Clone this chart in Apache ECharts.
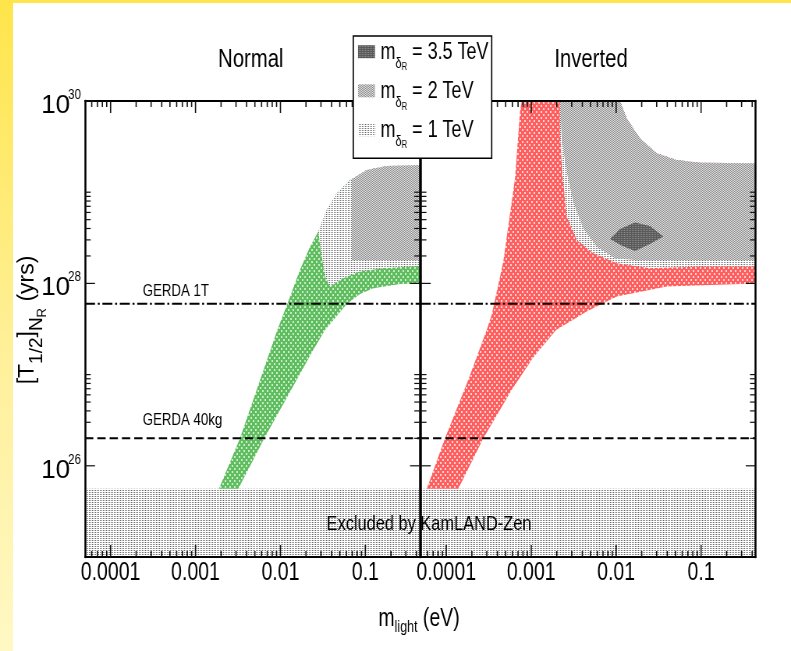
<!DOCTYPE html>
<html><head><meta charset="utf-8">
<script src="https://cdn.jsdelivr.net/npm/echarts@6/dist/echarts.min.js"></script>
<style>
html,body{margin:0;padding:0;width:791px;height:651px;overflow:hidden;background:linear-gradient(180deg,#ffe54a 0%,#fff09a 55%,#fff8c4 100%);}
#paper{position:absolute;left:13px;top:3px;right:0;bottom:0;background:#fff;}
#wrap{position:absolute;left:0;top:0;width:1014px;height:651px;transform:scaleX(0.780079);transform-origin:0 0;}
#chart{width:1014px;height:651px;}
</style></head><body>
<div id="paper"></div>
<div id="wrap"><div id="chart"></div></div>
<script>
// ---------------- data ----------------
const X_MIN = 5e-5, X_MAX = 0.44;
const Y_MIN = 1e25, Y_MAX = 1e30;
const X_MAJOR = [1e-4, 1e-3, 1e-2, 1e-1];
const X_TICK_LABELS = ['0.0001', '0.001', '0.01', '0.1'];
const X_MINOR = [6e-5, 7e-5, 8e-5, 9e-5,
  2e-4, 3e-4, 4e-4, 5e-4, 6e-4, 7e-4, 8e-4, 9e-4,
  2e-3, 3e-3, 4e-3, 5e-3, 6e-3, 7e-3, 8e-3, 9e-3,
  2e-2, 3e-2, 4e-2, 5e-2, 6e-2, 7e-2, 8e-2, 9e-2,
  0.2, 0.3, 0.4];
const Y_MAJOR = [1e26, 1e28, 1e30];
const Y_LABEL_EXP = [26, 28, 30];
const Y_MINOR = [2e26, 3e26, 4e26, 5e26, 6e26, 7e26, 8e26, 9e26, 1e27,
  2e28, 3e28, 4e28, 5e28, 6e28, 7e28, 8e28, 9e28, 1e29];

const KAMLAND_LIMIT = 5.6e25;
const GERDA_1T = 6e27;
const GERDA_40KG = 2e26;
const GERDA_LABELS = ['GERDA 1T', 'GERDA 40kg'];
const GERDA_LABEL_POS = [[2.39e-4, 8.2e27], [2.39e-4, 3.17e26]];
const EXCL_LABEL = 'Excluded by KamLAND-Zen';
const EXCL_LABEL_POS = [[6.26e-5, 2.31e25]];

// Normal hierarchy
const GREEN_BAND = [
  [0.00189, 5.6e25], [0.00334, 2.0e26], [0.00919, 3.09e27], [0.01205, 5.96e27],
  [0.0170, 1.41e28], [0.0223, 2.53e28], [0.0279, 3.70e28], [0.0351, 6.39e28],
  [0.0460, 9.74e28], [0.0660, 1.36e29], [0.1037, 1.75e29], [0.178, 1.94e29],
  [0.44, 1.99e29], [0.44, 1.0e28], [0.256, 9.87e27], [0.124, 8.86e27],
  [0.0865, 7.67e27], [0.0603, 5.96e27], [0.0335, 3.09e27], [0.0244, 1.87e27],
  [0.00646, 2.0e26], [0.00319, 5.6e25]
];
const ONE_TEV_N = [
  [0.0279, 3.70e28], [0.0351, 6.39e28], [0.0460, 9.74e28], [0.0660, 1.36e29],
  [0.1037, 1.75e29], [0.178, 1.94e29], [0.44, 1.99e29], [0.44, 1.555e28],
  [0.1627, 1.468e28], [0.0865, 1.347e28], [0.0550, 1.14e28], [0.0384, 9.23e27],
  [0.0335, 1.187e28], [0.0298, 2.33e28]
];
const TWO_TEV_N = [
  [0.0691, 1.81e28], [0.0691, 1.38e29], [0.1037, 1.75e29], [0.178, 1.94e29],
  [0.44, 1.99e29], [0.44, 1.81e28]
];
// Inverted hierarchy
const RED_BAND = [
  [5.89e-5, 5.6e25], [9.66e-5, 2.0e26], [1.817e-4, 8.76e26], [2.99e-4, 3.09e27],
  [3.43e-4, 4.52e27], [4.69e-4, 1.73e28], [6.45e-4, 1.42e29], [7.38e-4, 7.63e29],
  [7.73e-4, 1e30], [0.01111, 1e30], [0.01332, 6.46e29], [0.0191, 3.9e29],
  [0.0300, 2.67e29], [0.0516, 2.26e29], [0.0972, 2.11e29], [0.44, 2.08e29],
  [0.44, 1.0e28], [0.0394, 9.23e27], [0.01016, 7.17e27], [0.0045, 4.91e27],
  [0.00196, 3.09e27], [0.00105, 1.53e27], [5.9e-4, 6.81e26], [2.73e-4, 2.0e26],
  [1.385e-4, 5.6e25]
];
const ONE_TEV_I = [
  [0.002183, 1e30], [0.002183, 4.43e29], [0.002286, 1.905e29], [0.002618, 5.4e28],
  [0.003434, 3.0e28], [0.005385, 2.14e28], [0.01016, 1.665e28], [0.02506, 1.468e28],
  [0.0972, 1.528e28], [0.44, 1.528e28], [0.44, 2.08e29], [0.0972, 2.11e29],
  [0.0516, 2.26e29], [0.0300, 2.67e29], [0.0191, 3.9e29], [0.01332, 6.46e29],
  [0.01111, 1e30]
];
const TWO_TEV_I = [
  [0.002183, 1e30], [0.002286, 3.9e29], [0.002618, 1.68e29], [0.003131, 7.88e28],
  [0.004106, 4.03e28], [0.005906, 2.53e28], [0.0097, 1.89e28], [0.01669, 1.81e28],
  [0.44, 1.81e28], [0.44, 2.08e29], [0.0972, 2.11e29], [0.0516, 2.26e29],
  [0.0300, 2.67e29], [0.0191, 3.9e29], [0.01332, 6.46e29], [0.01111, 1e30]
];
const THREE_TEV_I = [
  [0.00847, 3.07e28], [0.01111, 3.96e28], [0.01669, 4.64e28], [0.02506, 4.27e28],
  [0.0359, 3.26e28], [0.02506, 2.71e28], [0.01669, 2.27e28], [0.01173, 2.58e28]
];
const LEGEND_LABELS = ['3.5 TeV', '2 TeV', '1 TeV'];

// ---------------- layout helpers ----------------
const S = 791 / 1014;
const U = v => v / S;
const FONT = 'Liberation Sans, Arial, Helvetica, sans-serif';

function makePattern(w, h, bg, fg, cells) {
  const c = document.createElement('canvas');
  c.width = w; c.height = h;
  const g = c.getContext('2d');
  g.fillStyle = bg; g.fillRect(0, 0, w, h);
  g.fillStyle = fg;
  cells.forEach(([x, y, cw, ch]) => g.fillRect(x, y, cw || 1, ch || 1));
  return { image: c, repeat: 'repeat' };
}
const GREEN_FILL = makePattern(6, 6, '#5fbd5f', '#c9eec9', [[0, 0, 2, 2], [3, 3, 2, 2]]);
const RED_FILL = makePattern(6, 6, '#ff5e5e', '#ffd2d2', [[0, 0, 2, 2], [3, 3, 2, 2]]);
const TWO_FILL = makePattern(2, 2, '#e4e4e4', '#8a8a8a', [[0, 0], [1, 1]]);
const ONE_FILL = makePattern(2, 2, '#ffffff', '#707070', [[0, 0]]);
const EXCL_FILL = makePattern(2, 2, '#ffffff', '#656565', [[0, 0]]);
const THREE_FILL = makePattern(2, 2, '#5a5a5a', '#8c8c8c', [[0, 0]]);
const LEGEND_FILLS = [THREE_FILL, TWO_FILL, ONE_FILL];

function poly(name, pts, fill, g, z) {
  return {
    type: 'custom', name, coordinateSystem: 'cartesian2d',
    xAxisIndex: 2 * g, yAxisIndex: 2 * g, data: pts, clip: true, silent: true, z,
    renderItem(params, api) {
      if (params.dataIndex !== 0) return null;
      const points = pts.map(p => api.coord(p));
      return { type: 'polygon', shape: { points }, style: { fill } };
    }
  };
}
function hline(name, yv, dash, g) {
  return {
    type: 'line', name, xAxisIndex: 2 * g, yAxisIndex: 2 * g,
    data: [[X_MIN, yv], [X_MAX, yv]], symbol: 'none', silent: true, z: 8,
    lineStyle: { color: '#000', width: 2, type: dash }
  };
}
function textSeries(texts, pos, g, align, size) {
  return {
    type: 'custom', coordinateSystem: 'cartesian2d', xAxisIndex: 2 * g, yAxisIndex: 2 * g,
    data: pos, silent: true, z: 9,
    renderItem(params, api) {
      const p = api.coord([api.value(0), api.value(1)]);
      return { type: 'text', x: p[0], y: p[1], style: {
        text: texts[params.dataIndex], fill: '#000', fontSize: size, fontFamily: FONT,
        align, verticalAlign: 'middle' } };
    }
  };
}
// y tick labels 10^n drawn at the axis positions of the log scale
function yLabelSeries() {
  return {
    type: 'custom', coordinateSystem: 'cartesian2d', xAxisIndex: 0, yAxisIndex: 0,
    data: Y_LABEL_EXP.map(e => [X_MIN, Math.pow(10, e), e]), silent: true, z: 12,
    encode: { x: 0, y: 1 },
    renderItem(params, api) {
      const p = api.coord([api.value(0), api.value(1)]);
      const xr = p[0] - U(4);
      return { type: 'group', children: [
        { type: 'text', x: xr, y: p[1] - 6.3,
          style: { text: String(api.value(2)), fill: '#000', fontSize: 15, fontFamily: FONT, align: 'right', verticalAlign: 'middle' } },
        { type: 'text', x: xr - U(11), y: p[1] + 4.8, scaleX: 1 / S,
          style: { text: '10', fill: '#000', fontSize: 26, fontFamily: FONT, align: 'right', verticalAlign: 'middle' } }
      ] };
    }
  };
}
function tickSeries(g) {
  const data = [];
  X_MAJOR.forEach(v => data.push([v, Y_MIN, 0]));
  X_MINOR.forEach(v => data.push([v, Y_MIN, 1]));
  Y_MAJOR.forEach(v => data.push([X_MIN, v, 2]));
  Y_MINOR.forEach(v => data.push([X_MIN, v, 3]));
  return {
    type: 'custom', coordinateSystem: 'cartesian2d', xAxisIndex: 2 * g, yAxisIndex: 2 * g,
    data, silent: true, z: 11, encode: { x: 0, y: 1 },
    renderItem(params, api) {
      const k = api.value(2);
      const st = { stroke: '#111', lineWidth: k < 2 ? 1.6 : 1.2 };
      if (k < 2) {
        const xv = api.value(0);
        const pb = api.coord([xv, Y_MIN]), pt = api.coord([xv, Y_MAX]);
        const len = k === 0 ? 12 : 6;
        return { type: 'group', children: [
          { type: 'line', shape: { x1: pb[0], y1: pb[1], x2: pb[0], y2: pb[1] - len }, style: st },
          { type: 'line', shape: { x1: pt[0], y1: pt[1], x2: pt[0], y2: pt[1] + len }, style: st }
        ] };
      } else {
        const yv = api.value(1);
        const pl = api.coord([X_MIN, yv]), pr = api.coord([X_MAX, yv]);
        const len = k === 2 ? U(10) : U(5.7);
        return { type: 'group', children: [
          { type: 'line', shape: { x1: pl[0], y1: pl[1], x2: pl[0] + len, y2: pl[1] }, style: st },
          { type: 'line', shape: { x1: pr[0], y1: pr[1], x2: pr[0] - len, y2: pr[1] }, style: st }
        ] };
      }
    }
  };
}
function xLabel(v) {
  const i = X_MAJOR.findIndex(m => Math.abs(Math.log10(v) - Math.log10(m)) < 1e-6);
  return i >= 0 ? X_TICK_LABELS[i] : '';
}
function xAxisDef(g, pos, labels) {
  return {
    gridIndex: g, type: 'log', logBase: 10, min: X_MIN, max: X_MAX, position: pos, z: 10,
    axisLine: { show: true, onZero: false, lineStyle: { color: '#000', width: 2 } },
    axisTick: { show: false }, minorTick: { show: false }, splitLine: { show: false },
    axisLabel: labels ? { show: true, formatter: xLabel, fontSize: 25, fontFamily: FONT, color: '#000', margin: 4 } : { show: false }
  };
}
function yAxisDef(g, pos) {
  return {
    gridIndex: g, type: 'log', logBase: 10, min: Y_MIN, max: Y_MAX, position: pos, z: 10,
    axisLine: { show: true, onZero: false, lineStyle: { color: '#000', width: 2.5 } },
    axisTick: { show: false }, minorTick: { show: false }, splitLine: { show: false },
    axisLabel: { show: false }
  };
}

const EXCL_POLY = [[X_MIN, Y_MIN], [X_MAX, Y_MIN], [X_MAX, KAMLAND_LIMIT], [X_MIN, KAMLAND_LIMIT]];
const DASHDOT = [U(10), U(2.7), U(2), U(2.7)];
const DASHED = [U(8.3), U(4)];

// legend graphic
const legendRows = [52.7, 91.8, 130.7];
const legendGraphic = [
  { type: 'rect', z: 100, shape: { x: U(353.3), y: 36, width: U(138.4), height: 122.3 },
    style: { fill: '#fff', stroke: '#000', lineWidth: 1.6 } }
];
LEGEND_LABELS.forEach((lab, i) => {
  legendGraphic.push({ type: 'rect', z: 101,
    shape: { x: U(358), y: legendRows[i] - 7.5, width: U(17), height: 13 },
    style: { fill: LEGEND_FILLS[i] } });
  legendGraphic.push({ type: 'text', z: 101, x: U(380.5), y: legendRows[i] - 11.5,
    style: {
      text: '{m|m}{d|δ}{r|R}{t| = ' + lab + '}', align: 'left', verticalAlign: 'top', fill: '#000',
      rich: {
        m: { fontSize: 23, lineHeight: 23, fontFamily: FONT, verticalAlign: 'top', fill: '#000' },
        d: { fontSize: 14, lineHeight: 14, fontFamily: FONT, verticalAlign: 'top', padding: [15.5, 0, 0, 0], fill: '#000' },
        r: { fontSize: 10, lineHeight: 10, fontFamily: FONT, verticalAlign: 'top', padding: [21.5, 0, 0, 0], fill: '#000' },
        t: { fontSize: 23, lineHeight: 23, fontFamily: FONT, verticalAlign: 'top', fill: '#000' }
      }
    } });
});

const titleGraphic = [
  { type: 'text', z: 100, x: U(419), y: 619,
    style: { text: '{m|m}{l|light}{e| (eV)}', align: 'center', verticalAlign: 'middle', fill: '#000',
      rich: {
        m: { fontSize: 25, lineHeight: 25, fontFamily: FONT, verticalAlign: 'top', fill: '#000' },
        l: { fontSize: 16, lineHeight: 16, fontFamily: FONT, verticalAlign: 'top', padding: [13.5, 0, 0, 0], fill: '#000' },
        e: { fontSize: 25, lineHeight: 25, fontFamily: FONT, verticalAlign: 'top', fill: '#000' }
      } } },
  { type: 'text', z: 100, x: U(27.5), y: 320, rotation: Math.PI / 2, scaleY: 1 / S,
    style: { text: '{a|[T}{s|1/2}{a|]}{s|N}{ss|R}{a| (yrs)}', align: 'center', verticalAlign: 'middle', fill: '#000',
      rich: {
        a: { fontSize: 23, lineHeight: 23, fontFamily: FONT, verticalAlign: 'top', fill: '#000' },
        s: { fontSize: 19, lineHeight: 19, fontFamily: FONT, verticalAlign: 'top', padding: [11, 0, 0, 0], fill: '#000' },
        ss: { fontSize: 13, lineHeight: 13, fontFamily: FONT, verticalAlign: 'top', padding: [20, 0, 0, 0], fill: '#000' }
      } } }
];

const chart = echarts.init(document.getElementById('chart'), null, { renderer: 'canvas' });
chart.setOption({
  animation: false,
  backgroundColor: 'transparent',
  title: [
    { text: 'Normal', left: U(250.8), top: 47, textAlign: 'center', padding: 0,
      textStyle: { fontSize: 26, fontWeight: 'normal', color: '#000', fontFamily: FONT } },
    { text: 'Inverted', left: U(591), top: 47, textAlign: 'center', padding: 0,
      textStyle: { fontSize: 26, fontWeight: 'normal', color: '#000', fontFamily: FONT } }
  ],
  grid: [
    { left: U(85), right: 1014 - U(420), top: 101, bottom: 94, containLabel: false, outerBoundsMode: 'none' },
    { left: U(420.7), right: 1014 - U(755.7), top: 101, bottom: 94, containLabel: false, outerBoundsMode: 'none' }
  ],
  xAxis: [xAxisDef(0, 'bottom', true), xAxisDef(0, 'top', false), xAxisDef(1, 'bottom', true), xAxisDef(1, 'top', false)],
  yAxis: [yAxisDef(0, 'left'), yAxisDef(0, 'right'), yAxisDef(1, 'left'), yAxisDef(1, 'right')],
  series: [
    poly('Excluded', EXCL_POLY, EXCL_FILL, 0, 2),
    poly('Normal', GREEN_BAND, GREEN_FILL, 0, 3),
    poly('1 TeV', ONE_TEV_N, ONE_FILL, 0, 4),
    poly('2 TeV', TWO_TEV_N, TWO_FILL, 0, 5),
    hline('GERDA 1T', GERDA_1T, DASHDOT, 0),
    hline('GERDA 40kg', GERDA_40KG, DASHED, 0),
    textSeries(GERDA_LABELS, GERDA_LABEL_POS, 0, 'left', 17),
    tickSeries(0),
    yLabelSeries(),
    poly('Excluded', EXCL_POLY, EXCL_FILL, 1, 2),
    poly('Inverted', RED_BAND, RED_FILL, 1, 3),
    poly('1 TeV', ONE_TEV_I, ONE_FILL, 1, 4),
    poly('2 TeV', TWO_TEV_I, TWO_FILL, 1, 5),
    poly('3.5 TeV', THREE_TEV_I, THREE_FILL, 1, 6),
    hline('GERDA 1T', GERDA_1T, DASHDOT, 1),
    hline('GERDA 40kg', GERDA_40KG, DASHED, 1),
    textSeries([EXCL_LABEL], EXCL_LABEL_POS, 1, 'center', 21),
    tickSeries(1)
  ],
  graphic: legendGraphic.concat(titleGraphic)
});
</script>
</body></html>
